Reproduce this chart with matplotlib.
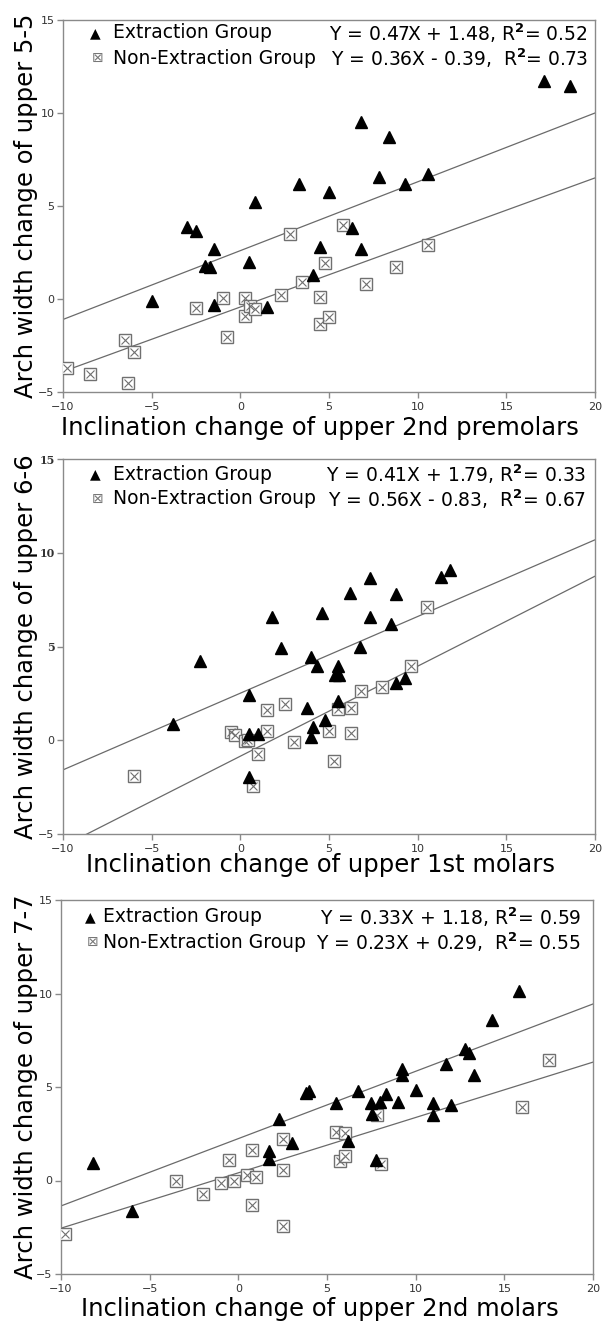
import matplotlib
matplotlib.use("Agg")
import matplotlib.pyplot as plt
import numpy as np

plt.rcParams['mathtext.fontset'] = 'dejavusans'

# ---------------- data ----------------
# Panel 1: upper 5-5 vs 2nd premolars
p1_ext_x = [0.8, -3.0, -2.5, -1.5, -2.0, -1.7, 0.5, -5.0, -1.5, 1.5, 4.1, 4.5, 6.3, 6.8,
            3.3, 5.0, 6.8, 7.8, 8.4, 9.3, 10.6, 17.1, 18.6]
p1_ext_y = [5.2, 3.85, 3.67, 2.69, 1.79, 1.7, 2.0, -0.1, -0.32, -0.41, 1.29, 2.78, 3.8, 2.69,
            6.16, 5.77, 9.5, 6.57, 8.7, 6.16, 6.7, 11.7, 11.46]
p1_non_x = [-9.8, -8.5, -6.5, -6.0, -6.35, -2.5, -1.0, -0.75, 0.26, 0.26, 0.54, 0.8, 2.3, 2.8,
            3.5, 4.5, 4.5, 4.8, 5.0, 5.8, 7.1, 8.8, 10.6]
p1_non_y = [-3.71, -4.01, -2.22, -2.83, -4.5, -0.5, 0.04, -2.03, 0.04, -0.93, -0.36, -0.54, 0.22, 3.51,
            0.9, 0.09, -1.33, 1.94, -0.99, 4.0, 0.79, 1.72, 2.92]

# Panel 2: upper 6-6 vs 1st molars
p2_ext_x = [-2.3, 1.8, 2.3, 4.0, 4.6, 6.2, 7.3, 7.3, 8.5, 8.8, 6.75, 11.3, 11.8,
            -3.8, 0.5, 5.5, 4.3, 5.35, 5.55, 5.5, 3.75, 4.8, 4.1, 4.0, 0.5, 1.0, 0.5, 8.8, 9.3]
p2_ext_y = [4.25, 6.6, 4.9, 4.45, 6.79, 7.88, 8.63, 6.57, 6.21, 7.79, 5.0, 8.71, 9.1,
            0.86, 2.42, 3.94, 3.94, 3.49, 3.49, 2.1, 1.7, 1.08, 0.72, 0.18, 0.36, 0.36, -1.94, 3.05, 3.3]
p2_non_x = [10.55, 9.6, 8.0, 6.8, 6.26, 5.5, 2.5, 1.5, 1.5, -0.55, -0.3, 0.26, 0.43, 1.0,
            3.0, 5.0, 6.26, 5.28, 0.72, -6.0]
p2_non_y = [7.1, 3.94, 2.83, 2.65, 1.7, 1.65, 1.94, 1.61, 0.5, 0.43, 0.27, -0.04, 0.0, -0.72,
            -0.09, 0.5, 0.41, -1.11, -2.42, -1.9]

# Panel 3: upper 7-7 vs 2nd molars
p3_ext_x = [15.8, 14.3, 12.8, 13.0, 11.7, 13.3, 9.25, 9.25,
            3.8, 4.0, 6.75, 10.0, 8.3, 5.5, 7.5, 8.0, 9.0, 11.0, 12.0, 7.55, 11.0,
            2.3, 3.0, 6.2, 1.75, 1.75, 7.75, -8.2, -6.0]
p3_ext_y = [10.14, 8.6, 7.05, 6.84, 6.25, 5.66, 5.95, 5.66,
            4.7, 4.77, 4.77, 4.86, 4.64, 4.14, 4.14, 4.2, 4.2, 4.14, 4.05, 3.57, 3.52,
            3.3, 2.0, 2.09, 1.59, 1.14, 1.07, 0.96, -1.63]
p3_non_x = [17.5, 16.0, 7.8, 5.5, 6.0, 2.5, 0.75, -0.5, 5.75, 6.0, 8.05, -3.5, -1.0, -0.25,
            0.5, 1.0, 2.5, -2.0, 0.75, 2.5, -9.75]
p3_non_y = [6.46, 3.91, 3.48, 2.6, 2.54, 2.21, 1.61, 1.07, 1.02, 1.29, 0.89, 0.0, -0.11, 0.0,
            0.27, 0.21, 0.54, -0.71, -1.3, -2.41, -2.88]

# regression lines as drawn (slope, intercept)
line_ext = [(0.37, 2.6), (0.409, 2.51), (0.36, 2.24)]
line_non = [(0.347, -0.43), (0.48, -0.85), (0.296, 0.41)]

eq_ext = ["Y = 0.47X + 1.48, R$^{\\mathbf{2}}$= 0.52",
          "Y = 0.41X + 1.79, R$^{\\mathbf{2}}$= 0.33",
          "Y = 0.33X + 1.18, R$^{\\mathbf{2}}$= 0.59"]
eq_non = ["Y = 0.36X - 0.39,  R$^{\\mathbf{2}}$= 0.73",
          "Y = 0.56X - 0.83,  R$^{\\mathbf{2}}$= 0.67",
          "Y = 0.23X + 0.29,  R$^{\\mathbf{2}}$= 0.55"]
xlabels = ["Inclination change of upper 2nd premolars",
           "Inclination change of upper 1st molars",
           "Inclination change of upper 2nd molars"]
ylabels = ["Arch width change of upper 5-5",
           "Arch width change of upper 6-6",
           "Arch width change of upper 7-7"]
legend_names = ["Extraction Group", "Non-Extraction Group"]
xticks = [-10, -5, 0, 5, 10, 15, 20]
yticks = [-5, 0, 5, 10, 15]

panels = [(p1_ext_x, p1_ext_y, p1_non_x, p1_non_y),
          (p2_ext_x, p2_ext_y, p2_non_x, p2_non_y),
          (p3_ext_x, p3_ext_y, p3_non_x, p3_non_y)]

# ---------------- layout (pixels) ----------------
W, H = 602, 1321
fig = plt.figure(figsize=(W / 100, H / 100), dpi=100)

# (left, right, top, bottom)
boxes = [(63, 595, 20, 392), (63, 595, 459, 834), (61, 593, 900, 1274)]
leg_rows = [(33, 58), (474, 499), (917, 942)]
leg_x = [(95, 113), (95, 113), (90, 103)]
eq_right = [588, 586, 581]
xlab_base = [435, 872, 1316]


def fx(px):
    return px / W


def fy(py):
    return 1 - py / H


spine_c = '#8a8a8a'
line_c = '#6a6a6a'
sq_c = '#707070'

for i, (ex, ey, nx, ny) in enumerate(panels):
    l, r, t, b = boxes[i]
    ax = fig.add_axes([fx(l), fy(b), (r - l) / W, (b - t) / H])
    ax.set_xlim(-10, 20)
    ax.set_ylim(-5, 15)
    ax.set_xticks(xticks)
    ax.set_yticks(yticks)
    for s in ax.spines.values():
        s.set_color(spine_c)
        s.set_linewidth(1.0)
    ax.tick_params(axis='both', direction='out', length=4, width=1.0, color=spine_c,
                   labelsize=8, labelcolor='#333333', pad=2)
    ax.tick_params(axis='x', pad=3)

    xs = np.array([-10, 20])
    for (m, c) in (line_ext[i], line_non[i]):
        ax.plot(xs, m * xs + c, color=line_c, lw=0.9, zorder=2)

    ax.plot(nx, ny, linestyle='none', marker='s', markersize=8, markerfacecolor='white',
            markeredgecolor=sq_c, markeredgewidth=1.0, zorder=3)
    ax.plot(nx, ny, linestyle='none', marker='x', markersize=5.5,
            markeredgecolor=sq_c, markeredgewidth=0.8, zorder=4)
    ax.plot(ex, ey, linestyle='none', marker='^', markersize=9, color='black', zorder=5)

    if i == 1:
        for lab in ax.get_yticklabels():
            if lab.get_text() in ('5', '10', '15'):
                lab.set_fontfamily('DejaVu Serif')
                lab.set_fontweight('bold')

    # legend
    r1, r2 = leg_rows[i]
    mx, tx = leg_x[i]
    fig.text(fx(mx), fy(r1), "\u25B2", fontsize=10, ha='center', va='center',
             color='black', family='DejaVu Sans')
    fig.text(fx(mx + 3), fy(r2), "\u22A0", fontsize=10, ha='center', va='center',
             color='#777777', family='DejaVu Sans')
    fig.text(fx(tx), fy(r1), legend_names[0], fontsize=13.5, ha='left', va='center',
             family='DejaVu Sans', color='black')
    fig.text(fx(tx), fy(r2), legend_names[1], fontsize=13.5, ha='left', va='center',
             family='DejaVu Sans', color='black')
    fig.text(fx(eq_right[i]), fy(r1), eq_ext[i], fontsize=13.5, ha='right', va='center',
             family='DejaVu Sans', color='black')
    fig.text(fx(eq_right[i]), fy(r2), eq_non[i], fontsize=13.5, ha='right', va='center',
             family='DejaVu Sans', color='black')

    # axis labels
    fig.text(fx(320), fy(xlab_base[i]), xlabels[i], fontsize=17.5, ha='center',
             va='baseline', family='DejaVu Sans', color='black')
    fig.text(fx(26), fy((t + b) / 2), ylabels[i], fontsize=17.5, rotation=90,
             ha='center', va='center', family='DejaVu Sans', color='black')

fig.savefig("out.png", dpi=100, facecolor='white')
